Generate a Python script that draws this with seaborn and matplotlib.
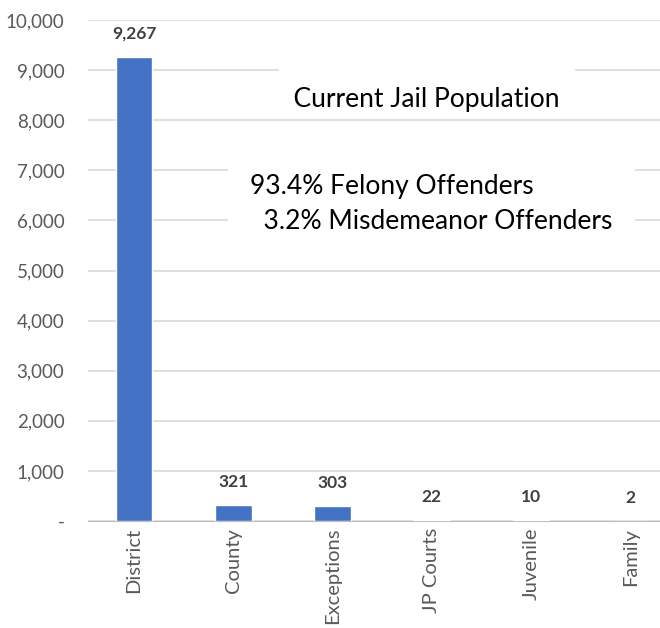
import pandas as pd
import numpy as np
import matplotlib.pyplot as plt
import seaborn as sns

courts = ["District", "County", "Exceptions", "JP Courts", "Juvenile", "Family"]
inmates = [9267, 321, 303, 22, 10, 2]
y_ticks = [0, 1000, 2000, 3000, 4000, 5000, 6000, 7000, 8000, 9000, 10000]
y_labels = ["-", "1,000", "2,000", "3,000", "4,000", "5,000", "6,000", "7,000", "8,000", "9,000", "10,000"]

df = pd.DataFrame({"court": courts, "inmates": inmates})

sns.set_style("white")
plt.rcParams["font.family"] = ["Lato", "DejaVu Sans"]

fig = plt.figure(figsize=(6.6, 6.28), dpi=100)
ax = fig.add_axes([88 / 660, 1 - 521 / 628, 1 - 88 / 660, 501 / 628])

sns.barplot(data=df, x="court", y="inmates", color="#4472C4", width=0.37,
            saturation=1, ax=ax, zorder=3)

ax.set_ylim(0, 10000)
ax.set_xlim(-0.464, 5.30)
ax.set_yticks(y_ticks)
ax.set_yticklabels(y_labels)
ax.yaxis.grid(True, color="#D9D9D9", linewidth=1.2, zorder=0)
ax.set_xlabel("")
ax.set_ylabel("")
for s in ["top", "right", "left"]:
    ax.spines[s].set_visible(False)
ax.spines["bottom"].set_color("#BFBFBF")
ax.tick_params(axis="y", length=0, labelsize=13.5, labelcolor="#595959", pad=17)
ax.tick_params(axis="x", length=0, labelsize=14.5, labelcolor="#595959", rotation=90, pad=5)

# value labels
for i, v in enumerate(inmates):
    ax.text(i, v + 300, f"{v:,}", ha="center", va="bottom", fontsize=12.5,
            fontweight="bold", color="#404040", zorder=5)

# text boxes hide the gridlines behind them
ax.text(2.95, 8660, " \n  Current Jail Population  ", ha="center", va="center",
        fontsize=19, color="black", zorder=6, linespacing=1.0,
        bbox=dict(facecolor="white", edgecolor="none", pad=1))
ax.text(1.17, 6320, "93.4% Felony Offenders\n  3.2% Misdemeanor Offenders",
        ha="left", va="center", fontsize=19, color="black", zorder=6,
        linespacing=1.5,
        bbox=dict(facecolor="white", edgecolor="none", pad=16))

plt.savefig("out.png", dpi=100)
